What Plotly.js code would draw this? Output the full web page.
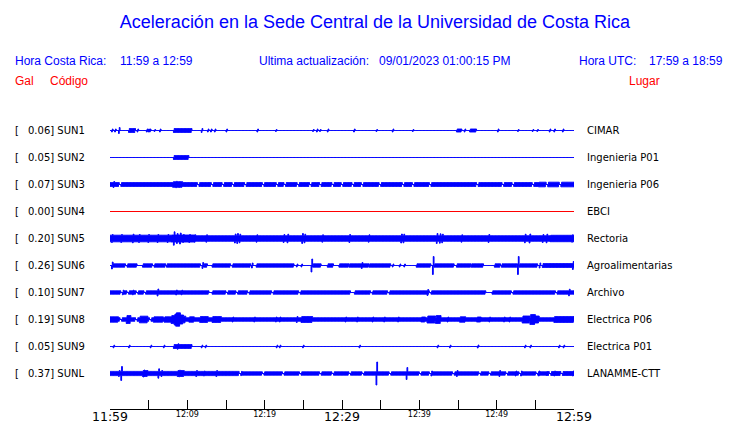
<!DOCTYPE html>
<html><head><meta charset="utf-8">
<script src="https://cdn.plot.ly/plotly-3.0.1.min.js"></script>
<style>html,body{margin:0;padding:0;background:#fff}#chart{width:740px;height:423px}</style>
</head><body><div id="chart"></div>
<script>
// ---------- data ----------
const stations = ["SUN1","SUN2","SUN3","SUN4","SUN5","SUN6","SUN7","SUN8","SUN9","SUNL"];
const peakGal = [0.06,0.05,0.07,0.00,0.20,0.26,0.10,0.19,0.05,0.37];
const places = ["CIMAR","Ingenieria P01","Ingenieria P06","EBCI","Rectoria","Agroalimentarias","Archivo","Electrica P06","Electrica P01","LANAMME-CTT"];

// time axis (minutes after 11:59)
const tickMinutes = [0,5,10,15,20,25,30,35,40,45,50,55,60];
const smallTickMinutes = [10,20,40,50];
const smallTickText = ["12:09","12:19","12:39","12:49"];
const bigTickMinutes = [0,30,60];
const bigTickText = ["11:59","12:29","12:59"];

// envelope of each record: bands [start min, end min, amplitude], gaps [min], spikes [min, amplitude]
const sun1Bands = [[2.5,3.2,2],[8.3,10.5,2],[44.9,45.4,1.5],[46.6,47.3,1.5]];
const sun1Gaps = [];
const sun1Spikes = [[0.3,1.5],[0.7,1.5],[1.2,3],[3.6,1.5],[4.8,1.5],[5.0,1.5],[5.2,1.5],[5.8,1],[6.5,1.5],[11.9,2],[12.7,1.5],[13.1,1.5],[13.6,1.5],[15.1,1.5],[19.1,1.5],[21.5,1],[26.3,1],[26.8,1.5],[27.2,1],[28.2,1.5],[31.6,1.5],[34.5,1],[36.6,1.5],[39.2,1],[45.9,1.5],[50.2,1.5],[52.8,1],[54.7,1],[55.3,1],[56.9,1.5],[57.5,1.5],[58.6,1.5]];

const sun2Bands = [[8.3,10.1,2]];
const sun2Gaps = [];
const sun2Spikes = [];

const sun3Bands = [[0,60,2],[8.2,9.3,2.8],[55.5,60,2.3]];
const sun3Gaps = [1.3,11.4,13.2,14.6,15.9,17.5,19.8,21.6,22.6,24.3,25.9,27.2,28.8,30.0,31.4,32.6,34.9,37.9,39.2,41.4,47.5,50.8,52.1,54.7,56.5,58.2];
const sun3Spikes = [[0.5,3],[8.6,3.2],[9.0,3]];

const sun4Bands = [];
const sun4Gaps = [];
const sun4Spikes = [];

const sun5Bands = [[0,8,3.3],[8,11,3.5],[11,57,2.8],[57,60,3.2]];
const sun5Gaps = [];
const sun5Spikes = [[0.3,4],[1.5,4],[3.0,4.3],[3.8,4],[5,4],[6.2,4],[7.5,4],[8.3,6.7],[8.7,5],[9.1,5.5],[9.5,4],[10.3,4],[11,3.7],[12.5,3.7],[16.2,4.5],[16.5,5],[16.8,4.3],[19,3.7],[22.5,4],[23,4.3],[24.9,5],[25.2,4.3],[27.5,3.7],[31,4],[33.5,3.7],[37.7,4.5],[38,4.3],[42.3,5],[42.7,4.7],[43,4.3],[45.5,3.7],[49,4],[53.7,4.3],[54.3,4.5],[56,4],[56.5,4.3],[59.8,3.7]];

const sun6Bands = [[0.26,1.9,1.7],[2.3,3.4,1.7],[4.3,5.4,1.7],[5.8,7.1,1.7],[7.4,11.6,1.7],[12.2,12.5,1.7],[13.3,15.5,1.7],[15.9,18.1,1.7],[19.0,23.7,1.7],[26.3,27.2,1.7],[28.2,28.8,1.7],[29.7,30.8,1.7],[31.0,33.4,1.7],[33.6,36.2,1.7],[39.7,41.4,1.7],[42.0,44.4,1.7],[44.9,46.6,1.7],[46.8,48.2,1.7],[49.8,50.4,1.7],[50.7,52.6,1.7],[53.0,55.2,1.7],[56.0,60,2]];
const sun6Gaps = [];
const sun6Spikes = [[0.26,3.5],[12.0,3],[18.4,2.5],[24.2,1.5],[24.8,1.5],[26.1,6.5],[32.6,3],[36.6,1.5],[37.5,1.5],[38.1,1.5],[41.8,9],[52.8,9],[55.6,2.5],[59.9,4]];

const sun7Bands = [[0,12.7,1.7],[13.3,31.0,1.7],[31.7,48.5,1.7],[49.5,60,1.7]];
const sun7Gaps = [1.5,2.3,3.5,4.5,15.1,16.4,17.9,21.0,24.5,33.8,36.0,41.4,52.0,57.7];
const sun7Spikes = [[1.7,2.3],[3.0,2.3],[6.2,3.5],[8.6,2.5],[9.3,2.3],[41.1,3],[59.4,3.3]];

const sun8Bands = [[0,1,2.7],[1,60,1.8],[2.2,2.6,4],[3.9,4.8,3.3],[5.7,6.8,2.7],[7.1,8.0,2.7],[8.0,8.4,4],[8.4,8.6,5.5],[8.6,9.0,6.7],[9.0,9.4,4.5],[9.4,9.7,3.3],[10.3,10.8,2.7],[11.7,12.6,3],[13.3,14.3,3],[24.8,26.1,3],[40.3,40.7,2.5],[41.1,42.0,3.5],[42.2,42.7,4],[45.3,45.9,2.7],[47.5,47.9,2.5],[53.4,54.2,3.5],[54.4,54.9,5],[55.0,55.4,3.5],[57.5,59.9,3]];
const sun8Gaps = [1.4,3.4,5.2];
const sun8Spikes = [[15.9,2.5],[18.7,2.5],[21.5,2.5],[22,2.5],[24.2,3],[30.5,2.5],[32,2.5],[34,2.5],[35.5,2.5],[37.3,2.5],[43.7,2.5],[49.1,2.5],[51,2.5],[51.7,2.5]];

const sun9Bands = [[8.3,10.5,2]];
const sun9Gaps = [];
const sun9Spikes = [[8.8,2.7],[0.5,1.3],[2.5,1.3],[5.3,1.3],[7,1.3],[11.9,1.3],[12.4,1.3],[21.6,1.3],[22,1.3],[25,1.3],[32.3,1.3],[42.4,1.3],[44,1.3],[47.6,1.5],[53.7,1.3],[54.4,1.3],[58.1,1.3],[58.7,1.3]];

const sunLBands = [[0,17,2.1],[17,60,1.7],[4.3,4.8,3],[8.8,9.5,3],[56.5,60,2]];
const sunLGaps = [16.8,19.8,22.4,24.6,27.2,28.8,31.0,32.7,36.2,40.1,41.4,44.4,47.8,49.1,51.3,53.0,55.2,56.9,58.4];
const sunLSpikes = [[1.2,3],[1.5,7],[4.4,3.5],[6.3,4.7],[6.7,3],[9.0,3.3],[11.2,3],[12.2,2.5],[13.8,3],[34.5,11.5],[38.4,6],[41.6,2.5],[44.9,3],[50.4,3],[52.5,2.5],[53.2,2.5],[55.5,2.5],[57.5,2.5],[59.9,2.5]];

const allBands = [sun1Bands,sun2Bands,sun3Bands,sun4Bands,sun5Bands,sun6Bands,sun7Bands,sun8Bands,sun9Bands,sunLBands];
const allGaps = [sun1Gaps,sun2Gaps,sun3Gaps,sun4Gaps,sun5Gaps,sun6Gaps,sun7Gaps,sun8Gaps,sun9Gaps,sunLGaps];
const allSpikes = [sun1Spikes,sun2Spikes,sun3Spikes,sun4Spikes,sun5Spikes,sun6Spikes,sun7Spikes,sun8Spikes,sun9Spikes,sunLSpikes];

// ---------- build figure ----------
const BLUE = "#0000ff", RED = "#ff0000";
const W = 740, H = 423;
const ROW_PX = 27, FIRST_ROW_PX = 130.5;
const AMP = 1 / ROW_PX;            // amplitude unit -> row units
const STEP = 0.1;                  // minutes
const N = Math.round(60 / STEP);

function envelope(bands, gaps, spikes) {
  const a = new Array(N + 1).fill(0);
  for (let k = 0; k <= N; k++) {
    const t = k * STEP;
    for (const b of bands) if (t >= b[0] - 1e-9 && t <= b[1] + 1e-9) a[k] = Math.max(a[k], b[2]);
    for (const g of gaps) if (Math.abs(t - g) < 0.16) a[k] = 0;
  }
  for (const s of spikes) {
    const k = Math.round(s[0] / STEP);
    if (k >= 0 && k <= N) a[k] = Math.max(a[k], s[1]);
  }
  return a;
}

// axis assignment: all share the same domain/range; extra axes only carry label sets
const axisOf = ["x","x","x","x2","x","x","x","x","x3","x"];

const traces = [];
stations.forEach((st, i) => {
  if (peakGal[i] === 0) {
    traces.push({x: [0, 60], y: [i, i], mode: "lines", xaxis: axisOf[i], yaxis: "y",
      line: {color: RED, width: 1}, hoverinfo: "skip", name: st});
    return;
  }
  const env = envelope(allBands[i], allGaps[i], allSpikes[i]);
  const xs = [], ys = [];
  for (let k = 0; k <= N; k++) { xs.push(k * STEP); ys.push(i - env[k] * AMP); }
  for (let k = N; k >= 0; k--) { xs.push(k * STEP); ys.push(i + env[k] * AMP); }
  traces.push({x: xs, y: ys, mode: "lines", fill: "toself", fillcolor: BLUE, xaxis: axisOf[i], yaxis: "y",
    line: {color: BLUE, width: 1, shape: "hv"}, hoverinfo: "skip", name: st});
});

const annotations = [];
const lab = {family: "DejaVu Sans", size: 10, color: "#000"};
stations.forEach((st, i) => {
  annotations.push({xref: "paper", yref: "y", x: 13 / W, y: i, text: "[", showarrow: false,
    xanchor: "left", yanchor: "middle", font: lab});
  annotations.push({xref: "paper", yref: "y", x: 26 / W, y: i, text: peakGal[i].toFixed(2) + "] " + st,
    showarrow: false, xanchor: "left", yanchor: "middle", font: lab});
  annotations.push({xref: "paper", yref: "y", x: 585 / W, y: i, text: places[i], showarrow: false,
    xanchor: "left", yanchor: "middle", font: lab});
});
const hdr = {family: "Liberation Sans, Arial, sans-serif", size: 12, color: BLUE};
const red = {family: "Liberation Sans, Arial, sans-serif", size: 12, color: RED};
function pa(px, py, text, font) {
  annotations.push({xref: "paper", yref: "paper", x: px / W, y: 1 - py / H, text: text, showarrow: false,
    xanchor: "left", yanchor: "middle", font: font});
}
pa(13, 61, "Hora Costa Rica:", hdr);
pa(118, 61, "11:59 a 12:59", hdr);
pa(257, 61, "Ultima actualización:", hdr);
pa(377, 61, "09/01/2023 01:00:15 PM", hdr);
pa(577, 61, "Hora UTC:", hdr);
pa(647, 61, "17:59 a 18:59", hdr);
pa(13, 81, "Gal", red);
pa(48, 81, "Código", red);
pa(627, 81, "Lugar", red);

const dom = [110 / W, 574 / W];
const lineY = 409;
const common = {domain: dom, range: [0, 60], anchor: "free", showgrid: false, zeroline: false, fixedrange: true};
const layout = {
  width: W, height: H, margin: {l: 0, r: 0, t: 0, b: 0},
  paper_bgcolor: "#fff", plot_bgcolor: "#fff", showlegend: false,
  title: {text: "Aceleración en la Sede Central de la Universidad de Costa Rica",
    x: 375 / W, xanchor: "center", y: 1 - 22 / H, yanchor: "middle",
    font: {family: "Liberation Sans, Arial, sans-serif", size: 18, color: BLUE}},
  xaxis: Object.assign({}, common, {position: (H - lineY) / H,
    showline: true, linecolor: "#000", linewidth: 1, ticks: "inside", ticklen: 9, tickwidth: 1, tickcolor: "#000",
    tickmode: "array", tickvals: tickMinutes, showticklabels: false}),
  xaxis2: Object.assign({}, common, {position: (H - lineY + 1) / H, overlaying: "x",
    showline: false, ticks: "", tickmode: "array", tickvals: smallTickMinutes, ticktext: smallTickText,
    tickfont: {family: "DejaVu Sans", size: 8, color: "#000"}}),
  xaxis3: Object.assign({}, common, {position: (H - lineY + 2) / H, overlaying: "x",
    showline: false, ticks: "", tickmode: "array", tickvals: bigTickMinutes, ticktext: bigTickText,
    tickfont: {family: "DejaVu Sans", size: 12.5, color: "#000"}}),
  yaxis: {domain: [0, 1], range: [(H - FIRST_ROW_PX) / ROW_PX, -FIRST_ROW_PX / ROW_PX],
    visible: false, showgrid: false, zeroline: false, fixedrange: true},
  annotations: annotations
};
Plotly.newPlot("chart", traces, layout, {displayModeBar: false, staticPlot: true});
</script></body></html>
